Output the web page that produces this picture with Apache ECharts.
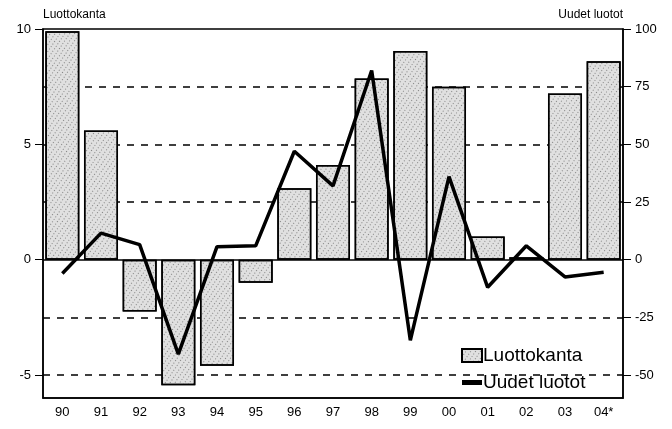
<!DOCTYPE html>
<html>
<head>
<meta charset="utf-8">
<script src="https://cdn.jsdelivr.net/npm/echarts@6/dist/echarts.min.js"></script>
<style>
  html, body { margin: 0; padding: 0; background: #fff; }
  #chart { width: 672px; height: 429px; }
</style>
</head>
<body>
<div id="chart"></div>
<script>
var years = ["90", "91", "92", "93", "94", "95", "96", "97", "98", "99", "00", "01", "02", "03", "04*"];
var luottokanta = [9.9, 5.6, -2.25, -5.45, -4.6, -1.0, 3.1, 4.1, 7.85, 9.05, 7.5, 1.0, 0.1, 7.2, 8.6];
var uudetLuotot = [-6, 11.5, 6.5, -41, 5.6, 6, 47, 32, 82, -35, 36, -12, 6, -7.5, -5.5];
var leftTicks = [-5, 0, 5, 10];
var rightTicks = [-50, -25, 0, 25, 50, 75, 100];
var gridValues = [-50, -25, 25, 50, 75];

var font = "Liberation Sans, Arial, sans-serif";

var option = {
    animation: false,
    grid: {
      left: 43,
      right: 49,
      top: 29,
      bottom: 31,
      show: true,
      borderColor: "#000",
      borderWidth: 1.5,
    },
    legend: {
      orient: "vertical",
      left: 456,
      top: 341,
      itemGap: 8,
      itemWidth: 20,
      itemHeight: 13,
      textStyle: { fontFamily: font, fontSize: 19, color: "#000", padding: [0, 0, 0, -4] },
      data: [
        { name: "Luottokanta", icon: "rect" },
        { name: "Uudet luotot", icon: "path://M0,0L1,0L1,0.25L0,0.25Z" },
      ],
    },
    xAxis: {
      type: "category",
      data: years,
      position: "bottom",
      axisLine: { onZero: false, lineStyle: { color: "#000", width: 1.5 } },
      axisTick: { alignWithLabel: true, length: 5, lineStyle: { color: "#000" } },
      axisLabel: { color: "#000", fontFamily: font, fontSize: 13, margin: 8 },
    },
    yAxis: [
      {
        type: "value",
        min: -6,
        max: 10,
        name: "Luottokanta",
        nameGap: 8,
        nameTextStyle: { align: "left", color: "#000", fontFamily: font, fontSize: 12 },
        axisLine: { show: true, lineStyle: { color: "#000", width: 1.5 } },
        axisTick: { show: true, length: 8, customValues: leftTicks, lineStyle: { color: "#000" } },
        axisLabel: { customValues: leftTicks, color: "#000", fontFamily: font, fontSize: 13, margin: 12 },
        splitLine: { show: false },
      },
      {
        type: "value",
        min: -60,
        max: 100,
        name: "Uudet luotot",
        nameGap: 8,
        nameTextStyle: { align: "right", color: "#000", fontFamily: font, fontSize: 12 },
        axisLine: { show: true, lineStyle: { color: "#000", width: 1.5 } },
        axisTick: { show: true, length: 8, customValues: rightTicks, lineStyle: { color: "#000" } },
        axisLabel: { customValues: rightTicks, color: "#000", fontFamily: font, fontSize: 13, margin: 12 },
        splitLine: { show: false },
      },
    ],
    series: [
      {
        name: "Gridlines",
        type: "line",
        yAxisIndex: 1,
        data: [],
        z: 0,
        markLine: {
          silent: true,
          symbol: "none",
          z: 0,
          label: { show: false },
          lineStyle: { type: [7, 7], width: 1.5, color: "#000" },
          data: gridValues.map(function (v) { return { yAxis: v }; }),
        },
      },
      {
        name: "Luottokanta",
        type: "bar",
        yAxisIndex: 0,
        data: luottokanta,
        barCategoryGap: "12%",
        z: 3,
        itemStyle: {
          color: "#e0e0e0",
          borderColor: "#000",
          borderWidth: 1.5,
          decal: {
            symbol: "rect",
            symbolSize: 0.8,
            dashArrayX: [1, 3],
            dashArrayY: [1, 2],
            rotation: 0.6,
            color: "rgba(30,30,30,0.6)",
          },
        },
        markLine: {
          silent: true,
          symbol: "none",
          label: { show: false },
          z: 2,
          data: [{ yAxis: 0, lineStyle: { type: "solid", width: 1.5, color: "#000" } }],
        },
      },
      {
        name: "Uudet luotot",
        type: "line",
        yAxisIndex: 1,
        data: uudetLuotot,
        showSymbol: false,
        symbol: "none",
        z: 5,
        lineStyle: { color: "#000", width: 3.5 },
        itemStyle: { color: "#000" },
      },
    ],
  };

  var myChart = echarts.init(document.getElementById("chart"));
  myChart.setOption(option);
</script>
</body>
</html>
